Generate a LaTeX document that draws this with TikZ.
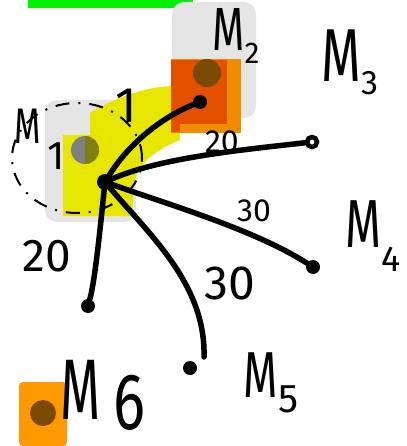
\documentclass[tikz,border=0pt]{standalone}
\usepackage{fontspec}
\setmainfont{Fira Sans}
\definecolor{boxgray}{HTML}{E5E5E5}
\definecolor{hlgreen}{HTML}{00F000}
\definecolor{hlyellow}{HTML}{E6E600}
\definecolor{lightorange}{HTML}{F08C00}
\definecolor{darkorange}{HTML}{E25000}
\definecolor{brownc}{HTML}{7A4A00}
\definecolor{midgray}{HTML}{808080}
\definecolor{olivec}{HTML}{7F7F10}
\definecolor{pureorange}{HTML}{FF9900}
\newcommand{\fsz}[1]{\fontsize{#1}{#1}\selectfont}
\newcommand{\handM}[1]{\scalebox{0.68}[1]{\fsz{#1}M}}
\begin{document}
\begin{tikzpicture}[x=1pt,y=-1pt,
  edge/.style={line width=5.5pt,line cap=round,draw=black},
  dotnode/.style={circle,fill=black,inner sep=0pt,minimum size=14pt},
  lbl/.style={inner sep=0pt,text=black}]
\useasboundingbox (0,0) rectangle (406,446);
% highlights
\fill[hlgreen] (28,0) rectangle (193,8);
\fill[boxgray,rounded corners=12pt] (172,2) rectangle (256,118);
\fill[boxgray,rounded corners=12pt] (45,100) rectangle (136,222);
\fill[hlyellow] (63,135) -- (90,135) -- (90,113) .. controls (120,95) and (150,86) .. (176,86)
  -- (180,140) .. controls (155,150) and (136,165) .. (134,185) -- (132,216) -- (63,216) -- cycle;
\fill[lightorange] (171,59) rectangle (241,133);
\fill[darkorange] (171,60) rectangle (227,124);
\fill[darkorange] (171,124) rectangle (180,132);
\node[circle,fill=brownc,minimum size=28pt,inner sep=0pt] (c2) at (207,73) {};
\node[circle,fill=midgray,minimum size=28pt,inner sep=0pt] (c1) at (85,150) {};
\begin{scope}
  \clip (85,130) rectangle (105,170);
  \fill[olivec] (c1.center) circle[radius=14pt];
\end{scope}
\fill[pureorange,rounded corners=4pt] (19,382) -- (67,382) -- (67,446) -- (19,446) -- cycle;
\node[circle,fill=brownc,minimum size=26pt,inner sep=0pt] (c6) at (43,413) {};
% dash-dot ring
\draw[line width=2pt,dash pattern=on 14pt off 9pt on 2pt off 9pt] (77,158) ellipse [x radius=65pt,y radius=55pt];
% nodes
\node[dotnode,minimum size=16pt] (hub) at (105,182) {};
\node[dotnode] (d2) at (200,102) {};
\node[circle,draw=black,line width=4.5pt,inner sep=0pt,minimum size=10pt] (d3) at (312,142) {};
\node[dotnode] (d4) at (313,267) {};
\node[dotnode] (d5) at (190,368) {};
\node[dotnode] (d6) at (88,306) {};
\coordinate (e5) at (204,357);
% edges
\draw[edge] (hub) .. controls (128,145) and (160,118) .. (d2);
\draw[edge] (hub) .. controls (160,158) and (240,150) .. (d3);
\draw[edge] (hub) .. controls (170,205) and (255,230) .. (d4);
\draw[edge] (hub) .. controls (150,235) and (206,285) .. (e5);
\draw[edge] (hub) .. controls (100,230) and (95,280) .. (d6);
% labels
\node[lbl] (l1) at (28,126) {\handM{50}};
\node[lbl] (l1s) at (56,156) {\fsz{40}1};
\node[lbl] (e1) at (126,106) {\fsz{50}1};
\node[lbl] (m2) at (236,36) {\handM{61}\raisebox{-13pt}{\fsz{30}2}};
\node[lbl] (m3) at (350,62) {\handM{75}\raisebox{-13pt}{\fsz{34}3}};
\node[lbl] (m4) at (373,236) {\handM{68}\raisebox{-24pt}{\fsz{36}4}};
\node[lbl] (m5) at (271,383) {\handM{65}\raisebox{-15pt}{\fsz{40}5}};
\node[lbl] (m6) at (103,395) {\scalebox{0.6}[1]{\fsz{86}M}\hspace{12pt}\raisebox{-10pt}{\scalebox{0.75}[1]{\fsz{80}6}}};
\node[lbl] (w1) at (222,142) {\fsz{32}20};
\node[lbl] (w2) at (254,211) {\fsz{32}30};
\node[lbl] (w3) at (47,256) {\fsz{46}20};
\node[lbl] (w4) at (230,283) {\fsz{48}30};
\end{tikzpicture}
\end{document}
